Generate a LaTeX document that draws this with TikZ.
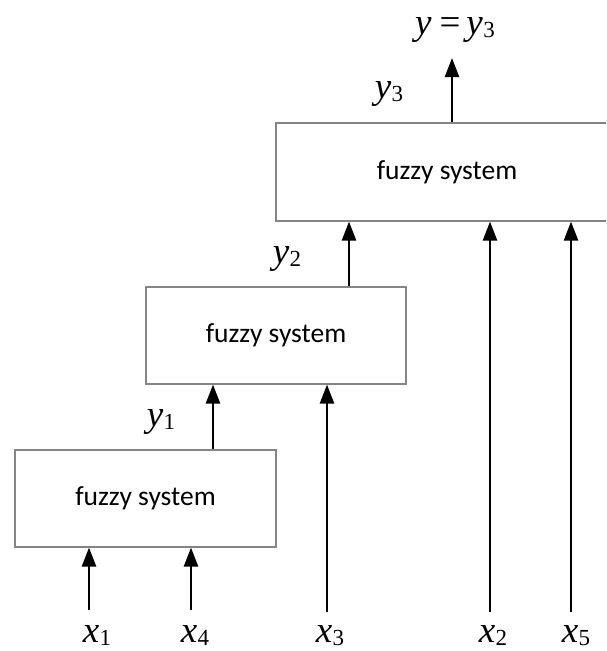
\documentclass[tikz,border=0pt]{standalone}
\usepackage{fontspec}
\setmainfont{Liberation Serif}
\newfontfamily\labfont{Liberation Serif}
\newfontfamily\boxfont{Carlito}
\usetikzlibrary{arrows.meta}
\newcommand\sv[2]{{\itshape #1}\kern0.5pt\raisebox{-3.5pt}{\fontsize{23}{23}\selectfont\upshape #2}}
\begin{document}
\begin{tikzpicture}[x=1pt,y=-1pt,
  fbox/.style={draw=black!48,line width=1.1pt,inner sep=0pt,
    font=\boxfont\fontsize{27.5}{27.5}\selectfont},
  arr/.style={line width=2.4pt,-{Triangle[length=19pt,width=14pt]}},
  lab/.style={anchor=base,inner sep=0pt,font=\labfont\fontsize{37}{37}\selectfont}]
\clip (0,0) rectangle (606,651);
\node[fbox,minimum width=261pt,minimum height=97pt] (b1) at (145.5,498.5) {fuzzy system};
\node[fbox,minimum width=260pt,minimum height=97pt] (b2) at (276,335.5) {fuzzy system};
\node[fbox,minimum width=342pt,minimum height=98pt] (b3) at (447,172) {fuzzy system};
% input coordinates
\coordinate (i1) at (89,610);
\coordinate (i4) at (191,610);
\coordinate (i3) at (327,612);
\coordinate (i2) at (490,612);
\coordinate (i5) at (571,612);
\coordinate (o1) at (213,0);
\coordinate (o2) at (349,0);
\coordinate (o3) at (452,58);
% labels
\node[lab] (lx1) at (97,642) {\sv{x}{1}};
\node[lab] (lx4) at (195,642) {\sv{x}{4}};
\node[lab] (lx3) at (330,642) {\sv{x}{3}};
\node[lab] (lx2) at (493,642) {\sv{x}{2}};
\node[lab] (lx5) at (576,642) {\sv{x}{5}};
\node[lab] (ly1) at (161,426) {\sv{y}{1}};
\node[lab] (ly2) at (287,263) {\sv{y}{2}};
\node[lab] (ly3) at (389,98) {\sv{y}{3}};
\node[lab] (ly) at (455,34) {{\itshape y}\hspace{8pt}=\hspace{6pt}\sv{y}{3}};
% arrows
\draw[arr] (i1) -- (i1 |- b1.south);
\draw[arr] (i4) -- (i4 |- b1.south);
\draw[arr] (i3) -- (i3 |- b2.south);
\draw[arr] (i2) -- (i2 |- b3.south);
\draw[arr] (i5) -- (i5 |- b3.south);
\draw[arr] (o1 |- b1.north) -- (o1 |- b2.south);
\draw[arr] (o2 |- b2.north) -- (o2 |- b3.south);
\draw[arr] (o3 |- b3.north) -- (o3);
\end{tikzpicture}
\end{document}
